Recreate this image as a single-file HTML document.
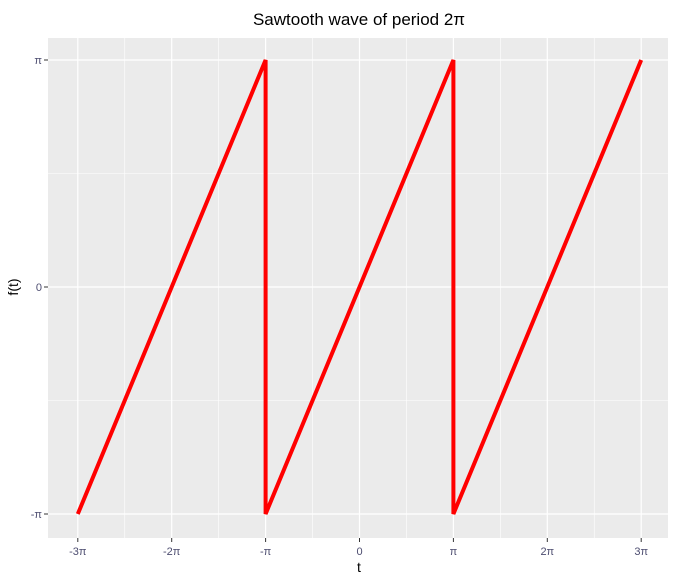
<!DOCTYPE html>
<html><head><meta charset="utf-8"><style>
body{margin:0;background:#fff;}
svg text{font-family:"Liberation Sans",sans-serif;}
</style></head><body>
<svg id="chart" width="681" height="581">
<rect x="0" y="0" width="681" height="581" fill="#fff"/>
<rect id="panel" x="48" y="38" width="620" height="500" fill="#ebebeb"/>
<g id="grid"></g>
<g id="marks"></g>
<g id="axes"></g>
<text x="359" y="25" text-anchor="middle" font-size="17" fill="#000">Sawtooth wave of period 2π</text>
<text x="359" y="572" text-anchor="middle" font-size="14" fill="#000">t</text>
<text x="18" y="287" text-anchor="middle" font-size="14" fill="#000" transform="rotate(-90 18 287)">f(t)</text>
</svg>
<script>
// data in units of pi
const tValues = [-3, -1, -1, 1, 1, 3];
const fValues = [-1, 1, -1, 1, -1, 1];
const xTicks = [-3, -2, -1, 0, 1, 2, 3];
const xTickLabels = ["-3π", "-2π", "-π", "0", "π", "2π", "3π"];
const yTicks = [-1, 0, 1];
const yTickLabels = ["-π", "0", "π"];

const NS = "http://www.w3.org/2000/svg";
const xs = v => 359.5 + v * 93.9;
const ys = v => 287 - v * 227;
function mk(tag, attrs, parent){const e=document.createElementNS(NS,tag);for(const k in attrs)e.setAttribute(k,attrs[k]);parent.appendChild(e);return e;}
const grid=document.getElementById('grid'), marks=document.getElementById('marks'), axes=document.getElementById('axes');
// minor grid
for(let i=0;i<xTicks.length-1;i++){
  const x=xs((xTicks[i]+xTicks[i+1])/2);
  const l=mk('line',{x1:x,x2:x,y1:38,y2:538,stroke:'#fff','stroke-width':0.6},grid);
  
  
}
for(let i=0;i<yTicks.length-1;i++){
  const y=ys((yTicks[i]+yTicks[i+1])/2);
  const l=mk('line',{x1:48,x2:668,y1:y,y2:y,stroke:'#fff','stroke-width':0.6},grid);
  
  
}
xTicks.forEach((v,i)=>{
  const x=xs(v);
  const l=mk('line',{x1:x,x2:x,y1:38,y2:538,stroke:'#fff','stroke-width':1.2},grid);
  
  
  mk('line',{x1:x,x2:x,y1:538,y2:542,stroke:'#333','stroke-width':1},axes);
  const t=mk('text',{x:x,y:555,'text-anchor':'middle','font-size':11,fill:'#4d4d70'},axes);
  t.textContent=xTickLabels[i];
  
  
});
yTicks.forEach((v,i)=>{
  const y=ys(v);
  const l=mk('line',{x1:48,x2:668,y1:y,y2:y,stroke:'#fff','stroke-width':1.2},grid);
  
  
  mk('line',{x1:44,x2:48,y1:y,y2:y,stroke:'#333','stroke-width':1},axes);
  const t=mk('text',{x:42,y:y+4,'text-anchor':'end','font-size':11,fill:'#4d4d70'},axes);
  t.textContent=yTickLabels[i];
  
  
});
const pts=tValues.map((t,i)=>xs(t)+','+ys(fValues[i])).join(' ');
const line=mk('polyline',{points:pts,fill:'none',stroke:'#ff0000','stroke-width':4,'stroke-linejoin':'miter','stroke-linecap':'butt'},marks);


</script>
</body></html>
